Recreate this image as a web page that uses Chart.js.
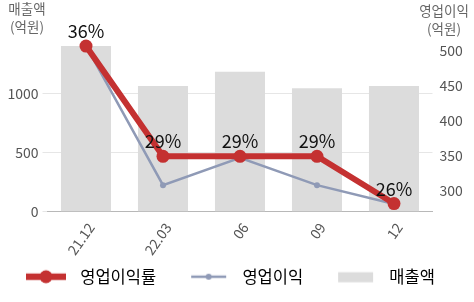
<!DOCTYPE html>
<html>
<head>
<meta charset="utf-8">
<script src="https://cdn.jsdelivr.net/npm/chart.js@4"></script>
<style>
  html, body { margin: 0; padding: 0; background: #fff; }
  #wrap { width: 474px; height: 302px; }
</style>
</head>
<body>
<div id="wrap"><canvas id="chart"></canvas></div>
<script>
// 데이터
const labels = ['21.12', '22.03', '06', '09', '12'];
const sales = [1404, 1065, 1186, 1046, 1065];   // 매출액 (억원)
const profit = [507, 308, 347, 308, 281];       // 영업이익 (억원)
const margin = [36, 29, 29, 29, 26];            // 영업이익률 (%)
const salesTicks = [0, 500, 1000];
const profitTicks = [300, 350, 400, 450, 500];

const FONT = '"Noto Sans CJK KR", "Noto Sans", sans-serif';
const RED = '#c43131';
const BLUE = '#8f9ab6';
const GRAY = '#dcdcdc';

// 범례 아이콘 (선 + 점)
function makeIcon(draw) {
  const c = document.createElement('canvas');
  c.width = 68;
  c.height = 16;
  draw(c.getContext('2d'));
  return c;
}
const redIcon = makeIcon(ctx => {
  ctx.strokeStyle = RED; ctx.lineWidth = 6.5;
  ctx.beginPath(); ctx.moveTo(22, 8); ctx.lineTo(62, 8); ctx.stroke();
  ctx.fillStyle = RED;
  ctx.beginPath(); ctx.arc(42, 8, 6.5, 0, Math.PI * 2); ctx.fill();
});
const blueIcon = makeIcon(ctx => {
  ctx.strokeStyle = BLUE; ctx.lineWidth = 2.5;
  ctx.beginPath(); ctx.moveTo(25, 8); ctx.lineTo(60, 8); ctx.stroke();
  ctx.fillStyle = BLUE;
  ctx.beginPath(); ctx.arc(42.5, 8, 3, 0, Math.PI * 2); ctx.fill();
});
const grayIcon = makeIcon(ctx => {
  ctx.fillStyle = GRAY;
  ctx.fillRect(25, 3.5, 35, 10);
});

// 데이터 라벨 (%)
const pctLabels = {
  id: 'pctLabels',
  afterDatasetsDraw(chart) {
    const ctx = chart.ctx;
    const meta = chart.getDatasetMeta(0);
    ctx.save();
    ctx.font = '18px ' + FONT;
    ctx.fillStyle = '#111';
    ctx.textAlign = 'center';
    ctx.textBaseline = 'alphabetic';
    meta.data.forEach((pt, i) => {
      ctx.fillText(margin[i] + '%', pt.x, pt.y - 8);
    });
    ctx.restore();
  }
};

// 축 제목
const axisTitles = {
  id: 'axisTitles',
  afterDraw(chart) {
    const ctx = chart.ctx;
    ctx.save();
    ctx.font = '13.5px ' + FONT;
    ctx.fillStyle = '#666';
    ctx.textAlign = 'center';
    ctx.textBaseline = 'alphabetic';
    ctx.fillText('매출액', 27, 14);
    ctx.fillText('(억원)', 27, 32);
    ctx.fillText('영업이익', 444, 16);
    ctx.fillText('(억원)', 444, 34);
    ctx.restore();
  }
};

new Chart(document.getElementById('chart'), {
  type: 'bar',
  data: {
    labels: labels,
    datasets: [
      {
        type: 'line',
        label: '영업이익률',
        data: margin,
        yAxisID: 'pct',
        borderColor: RED,
        backgroundColor: RED,
        borderWidth: 6,
        pointRadius: 6.5,
        pointBorderWidth: 0,
        pointBackgroundColor: RED,
        tension: 0,
        order: 0
      },
      {
        type: 'line',
        label: '영업이익',
        data: profit,
        yAxisID: 'y1',
        borderColor: BLUE,
        backgroundColor: BLUE,
        borderWidth: 2.5,
        pointRadius: 3,
        pointBorderWidth: 0,
        pointBackgroundColor: BLUE,
        tension: 0,
        order: 1
      },
      {
        type: 'bar',
        label: '매출액',
        data: sales,
        yAxisID: 'y',
        backgroundColor: GRAY,
        barPercentage: 0.65,
        categoryPercentage: 1,
        order: 2
      }
    ]
  },
  options: {
    responsive: true,
    maintainAspectRatio: false,
    animation: false,
    layout: { padding: { top: 34.7, left: -6, right: 0, bottom: 7 } },
    scales: {
      x: {
        grid: { display: false, drawTicks: false },
        border: { color: '#b8b8b8', width: 1 },
        ticks: {
          color: '#555',
          font: { family: FONT, size: 14 },
          minRotation: 55,
          maxRotation: 55,
          padding: 8,
          labelOffset: 5
        },
        afterFit(scale) { scale.height = 46.75; }
      },
      y: {
        position: 'left',
        min: 0,
        max: 1500,
        grid: { color: '#e6e6e6', lineWidth: 1, drawTicks: true, tickLength: 5 },
        border: { display: false },
        ticks: { color: '#555', font: { family: FONT, size: 14 }, padding: 4, callback: v => String(v) },
        afterBuildTicks(scale) { scale.ticks = salesTicks.map(v => ({ value: v })); },
        afterFit(scale) { scale.width = 53.5; }
      },
      y1: {
        position: 'right',
        min: 270,
        max: 523,
        grid: { display: false, drawTicks: false },
        border: { display: false },
        ticks: { color: '#555', font: { family: FONT, size: 14 }, padding: 7, callback: v => String(v) },
        afterBuildTicks(scale) { scale.ticks = profitTicks.map(v => ({ value: v })); },
        afterFit(scale) { scale.width = 41.5; }
      },
      pct: {
        display: false,
        min: 25.48,
        max: 36.72
      }
    },
    plugins: {
      tooltip: { enabled: false },
      legend: {
        position: 'bottom',
        align: 'start',
        labels: {
          usePointStyle: true,
          pointStyleWidth: 68,
          padding: 10,
          color: '#555',
          font: { family: FONT, size: 16.5 },
          generateLabels() {
            return [
              { text: '영업이익률', pointStyle: redIcon, fillStyle: RED, strokeStyle: RED, lineWidth: 0, datasetIndex: 0 },
              { text: '영업이익', pointStyle: blueIcon, fillStyle: BLUE, strokeStyle: BLUE, lineWidth: 0, datasetIndex: 1 },
              { text: '매출액', pointStyle: grayIcon, fillStyle: GRAY, strokeStyle: GRAY, lineWidth: 0, datasetIndex: 2 }
            ];
          }
        }
      }
    }
  },
  plugins: [pctLabels, axisTitles]
});
</script>
</body>
</html>
